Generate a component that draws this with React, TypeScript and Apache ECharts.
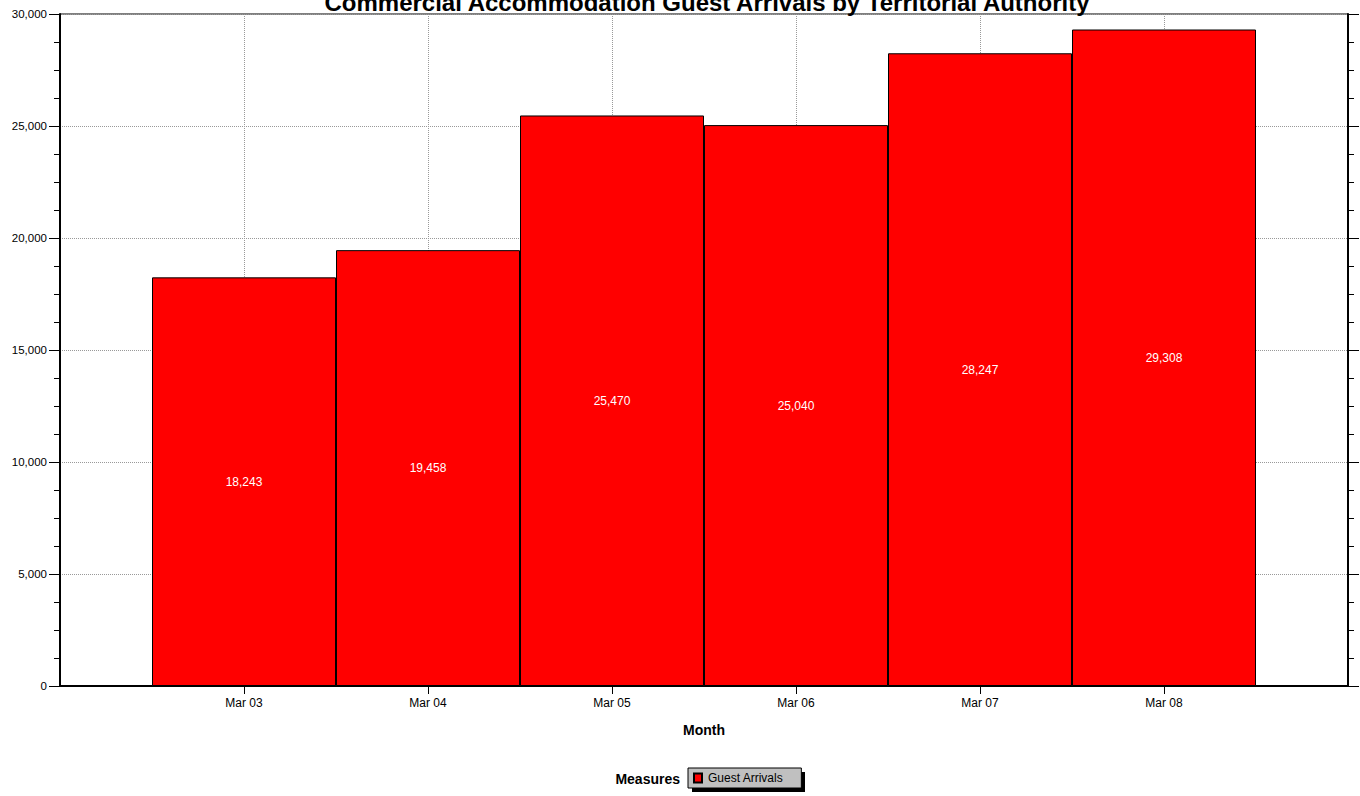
import React, { useEffect, useRef } from "react";
import * as echarts from "echarts";

const titleText = "Commercial Accommodation Guest Arrivals by Territorial Authority";
const categories = ["", "Mar 03", "Mar 04", "Mar 05", "Mar 06", "Mar 07", "Mar 08", ""];
const guestArrivals: (number | string)[] = ["-", 18243, 19458, 25470, 25040, 28247, 29308, "-"];
const seriesName = "Guest Arrivals";
const xAxisName = "Month";
const legendTitle = "Measures";
const yMin = 0;
const yMax = 30000;
const yInterval = 5000;

const FONT = "Liberation Sans, Arial, sans-serif";
const fmt = (v: number) => v.toLocaleString("en-US");

export default function App() {
  const ref = useRef<HTMLDivElement>(null);
  useEffect(() => {
    document.body.style.margin = "0";
    const chart = echarts.init(ref.current!, undefined, { renderer: "svg" });
    const yAxisCommon = {
      type: "value" as const,
      min: yMin,
      max: yMax,
      interval: yInterval,
      minorTick: { show: true, splitNumber: 4, length: 6, lineStyle: { color: "#000", width: 1 } },
    };
    chart.setOption({
      animation: false,
      backgroundColor: "#fff",
      textStyle: { fontFamily: FONT },
      title: {
        text: titleText,
        left: 702,
        textAlign: "center",
        top: -15,
        textStyle: { fontFamily: FONT, fontSize: 24, fontWeight: "bold", color: "#000" },
      },
      grid: {
        left: 60,
        right: 12,
        top: 14,
        bottom: 110,
        show: true,
        borderColor: "#000",
        borderWidth: 1,
        backgroundColor: "transparent",
      },
      legend: {
        data: [seriesName],
        left: 688,
        top: 768,
        orient: "horizontal",
        padding: [4, 18, 4, 5],
        itemWidth: 8,
        itemHeight: 9,
        itemGap: 0,
        icon: "rect",
        backgroundColor: "#c0c0c0",
        borderColor: "#000",
        borderWidth: 1,
        z: 5,
        selectedMode: false,
        textStyle: { fontFamily: FONT, fontSize: 12, color: "#000", padding: [0, 0, 0, 1] },
      },
      graphic: [
        {
          type: "rect",
          z: 1,
          shape: { x: 692, y: 772, width: 113, height: 20 },
          style: { fill: "#000" },
          silent: true,
        },
        {
          type: "text",
          z: 5,
          x: 680,
          y: 779,
          style: {
            text: legendTitle,
            fontFamily: FONT,
            fontSize: 14,
            fontWeight: "bold",
            fill: "#000",
            align: "right",
            verticalAlign: "middle",
          },
        },
      ],
      xAxis: {
        type: "category",
        data: categories,
        boundaryGap: false,
        name: xAxisName,
        nameLocation: "middle",
        nameGap: 37,
        nameTextStyle: { fontFamily: FONT, fontSize: 14, fontWeight: "bold", color: "#000" },
        axisLine: { show: true, lineStyle: { color: "#000", width: 2 } },
        axisTick: {
          show: true,
          length: 8,
          interval: (i: number) => i > 0 && i < categories.length - 1,
          lineStyle: { color: "#000", width: 1 },
        },
        axisLabel: { fontFamily: FONT, fontSize: 12, color: "#000", margin: 11, interval: 0 },
        splitLine: {
          show: true,
          interval: (i: number) => i > 0 && i < categories.length - 1,
          lineStyle: { color: "#999", type: [1, 1], width: 1 },
        },
      },
      yAxis: [
        {
          ...yAxisCommon,
          position: "left",
          axisLine: { show: true, lineStyle: { color: "#000", width: 2 } },
          axisTick: { show: true, length: 11, lineStyle: { color: "#000", width: 1 } },
          axisLabel: {
            fontFamily: FONT,
            fontSize: 11.5,
            color: "#000",
            margin: 13,
            formatter: (v: number) => fmt(v),
          },
          splitLine: { show: true, lineStyle: { color: "#999", type: [1, 1], width: 1 } },
        },
        {
          ...yAxisCommon,
          position: "right",
          axisLine: { show: true, lineStyle: { color: "#000", width: 2 } },
          axisTick: { show: true, length: 11, lineStyle: { color: "#000", width: 1 } },
          axisLabel: { show: false },
          splitLine: { show: false },
        },
      ],
      series: [
        {
          name: seriesName,
          type: "bar",
          data: guestArrivals,
          barCategoryGap: "0%",
          itemStyle: { color: "#ff0000", borderColor: "#000", borderWidth: 1 },
          label: {
            show: true,
            position: "inside",
            color: "#fff",
            fontFamily: FONT,
            fontSize: 12,
            formatter: (p: any) => fmt(p.value),
          },
        },
      ],
    });
    return () => chart.dispose();
  }, []);
  return <div ref={ref} style={{ width: 1360, height: 796 }} />;
}
